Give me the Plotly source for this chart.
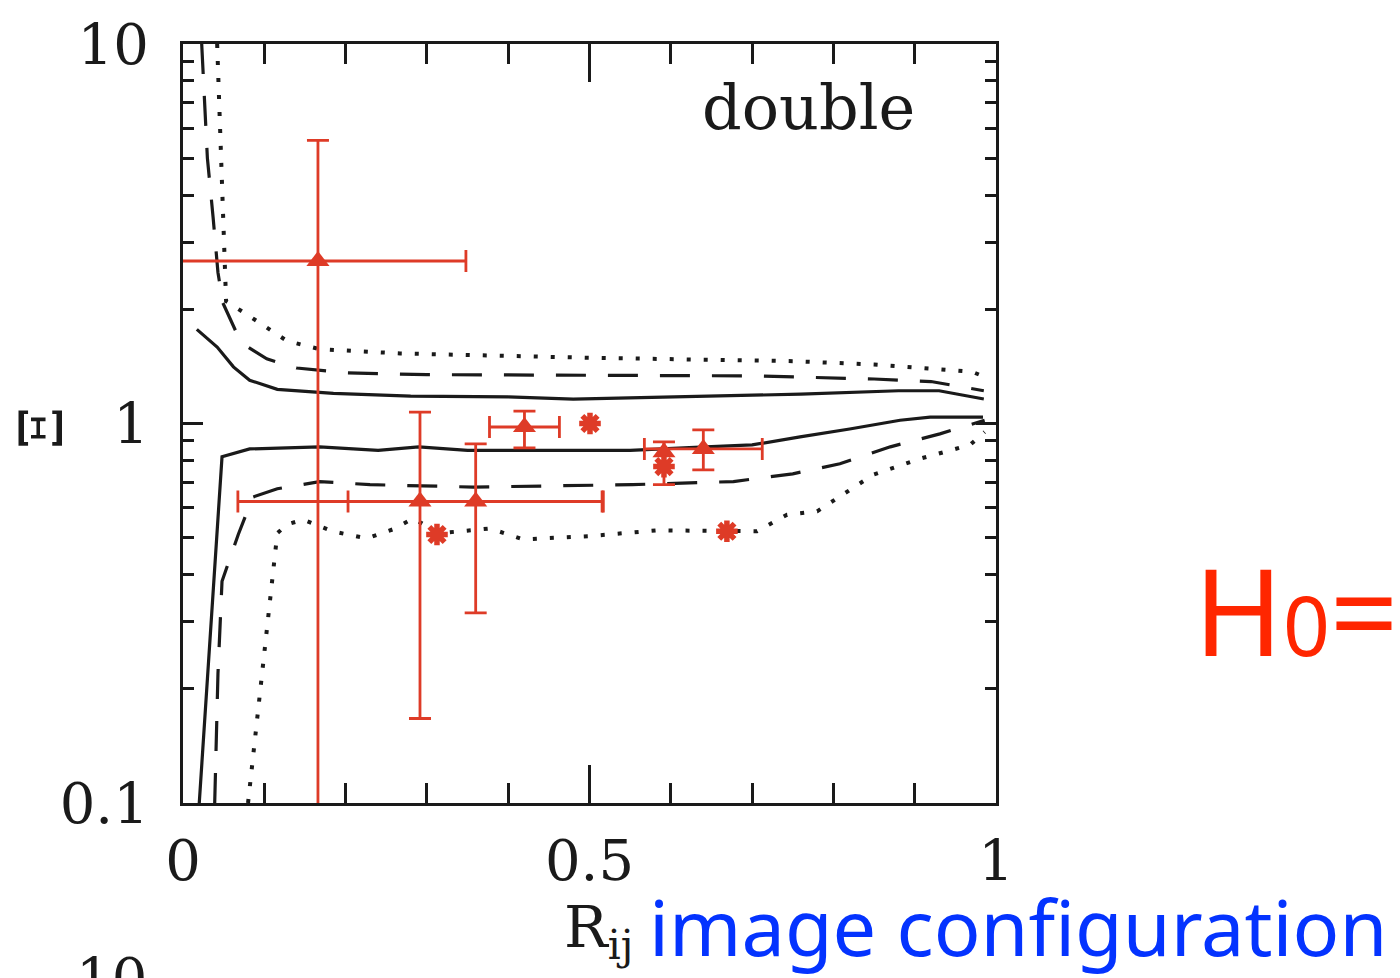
import plotly.graph_objects as go

# ---------------- data ----------------
# model curves: x = R_ij, y = Xi
solid_hi_x = [0.017, 0.042, 0.062, 0.082, 0.116, 0.185, 0.28, 0.40, 0.48, 0.55, 0.64, 0.76, 0.88, 0.93, 0.985]
solid_hi_y = [1.77, 1.59, 1.41, 1.30, 1.23, 1.20, 1.18, 1.175, 1.16, 1.17, 1.18, 1.195, 1.22, 1.22, 1.16]

solid_lo_x = [0.020, 0.048, 0.082, 0.168, 0.24, 0.29, 0.35, 0.45, 0.55, 0.636, 0.70, 0.759, 0.82, 0.882, 0.919, 0.984]
solid_lo_y = [0.10, 0.817, 0.857, 0.868, 0.85, 0.868, 0.85, 0.85, 0.85, 0.866, 0.878, 0.922, 0.967, 1.02, 1.04, 1.04]

dash_hi_x = [0.023, 0.030, 0.037, 0.043, 0.049, 0.065, 0.080, 0.103, 0.14, 0.20, 0.30, 0.50, 0.70, 0.85, 0.92, 0.985]
dash_hi_y = [10, 5, 3.5, 2.5, 2.08, 1.75, 1.59, 1.48, 1.40, 1.36, 1.345, 1.34, 1.335, 1.31, 1.29, 1.22]

dash_lo_x = [0.039, 0.043, 0.048, 0.068, 0.086, 0.116, 0.168, 0.23, 0.357, 0.553, 0.677, 0.75, 0.808, 0.87, 0.931, 0.986]
dash_lo_y = [0.10, 0.219, 0.384, 0.51, 0.64, 0.673, 0.703, 0.69, 0.68, 0.69, 0.703, 0.737, 0.783, 0.868, 0.939, 1.02]

dot_hi_x = [0.042, 0.046, 0.049, 0.053, 0.075, 0.103, 0.128, 0.168, 0.267, 0.50, 0.75, 0.85, 0.97, 0.985]
dot_hi_y = [10, 6, 3.5, 2.1, 1.96, 1.79, 1.65, 1.57, 1.53, 1.49, 1.46, 1.43, 1.37, 1.33]

dot_lo_x = [0.080, 0.097, 0.105, 0.111, 0.116, 0.128, 0.148, 0.185, 0.226, 0.258, 0.283, 0.316,
            0.378, 0.418, 0.50, 0.583, 0.706, 0.743, 0.780, 0.849, 0.906, 0.968, 0.986]
dot_lo_y = [0.10, 0.214, 0.307, 0.416, 0.514, 0.542, 0.558, 0.519, 0.498, 0.526, 0.562, 0.514,
            0.529, 0.495, 0.505, 0.523, 0.52, 0.575, 0.587, 0.733, 0.807, 0.878, 0.95]

# observed lenses (triangles) with error bars
tri_x = [0.166, 0.2915, 0.360, 0.420, 0.640, 0.5916]
tri_y = [2.68, 0.623, 0.623, 0.979, 0.857, 0.84]
tri_xerr = [0.182, 0.224, 0.157, 0.043, 0.0725, 0.0]
tri_y_hi = [5.57, 1.072, 0.884, 1.078, 0.962, 0.894]
tri_y_lo = [0.01, 0.167, 0.317, 0.863, 0.755, 0.69]

# observed lenses (stars), no error bars
star_x = [0.5006, 0.3124, 0.669, 0.5916]
star_y = [1.00, 0.51, 0.52, 0.77]

# axis ticks
x_major = [0, 0.5, 1]
x_major_text = ["0", "0.5", "1"]
x_minor = [0.1, 0.2, 0.3, 0.4, 0.6, 0.7, 0.8, 0.9]
y_major = [0.1, 1, 10]
y_major_text = ["0.1", "1", "10"]
y_minor = [0.2, 0.3, 0.4, 0.5, 0.6, 0.7, 0.8, 0.9, 2, 3, 4, 5, 6, 7, 8, 9]

# ---------------- layout helpers ----------------
W, H = 1400, 978
L, R, T, B = 183, 996, 40, 803


def px(x):
    return (x - L) / (R - L)


def py(y):
    return (B - y) / (B - T)


INK = "#1a1a1a"
RED = "#DE3B27"
SERIF = "DejaVu Serif"

fig = go.Figure()

line_w = 3.2
fig.add_trace(go.Scatter(x=solid_hi_x, y=solid_hi_y, mode="lines",
                         line=dict(color=INK, width=line_w), showlegend=False))
fig.add_trace(go.Scatter(x=solid_lo_x, y=solid_lo_y, mode="lines",
                         line=dict(color=INK, width=line_w), showlegend=False))
fig.add_trace(go.Scatter(x=dash_hi_x, y=dash_hi_y, mode="lines",
                         line=dict(color=INK, width=line_w, dash="30px,22px"), showlegend=False))
fig.add_trace(go.Scatter(x=dash_lo_x, y=dash_lo_y, mode="lines",
                         line=dict(color=INK, width=line_w, dash="30px,22px"), showlegend=False))
fig.add_trace(go.Scatter(x=dot_hi_x, y=dot_hi_y, mode="lines",
                         line=dict(color=INK, width=4, dash="4px,13px"), showlegend=False))
fig.add_trace(go.Scatter(x=dot_lo_x, y=dot_lo_y, mode="lines",
                         line=dict(color=INK, width=4, dash="4px,13px"), showlegend=False))

tri_plus = [h - y for h, y in zip(tri_y_hi, tri_y)]
tri_minus = [y - l for l, y in zip(tri_y_lo, tri_y)]

fig.add_trace(go.Scatter(
    x=tri_x, y=tri_y, mode="markers",
    marker=dict(symbol="triangle-up", size=20, color=RED),
    error_x=dict(type="data", array=tri_xerr, color=RED, thickness=2.8, width=11),
    error_y=dict(type="data", symmetric=False, array=tri_plus, arrayminus=tri_minus,
                 color=RED, thickness=2.8, width=11),
    showlegend=False))

fig.add_trace(go.Scatter(
    x=star_x, y=star_y, mode="markers",
    marker=dict(symbol="asterisk-open", size=18, color=RED, line=dict(color=RED, width=5.5)),
    showlegend=False))

axis_common = dict(showline=True, linecolor=INK, linewidth=3, mirror="ticks",
                   ticks="inside", tickcolor=INK, tickwidth=2.5,
                   showgrid=False, zeroline=False,
                   tickfont=dict(family=SERIF, size=56, color=INK))

fig.update_xaxes(range=[0, 1], tickmode="array", tickvals=x_major, ticktext=x_major_text,
                 ticklen=38, ticklabelstandoff=7,
                 minor=dict(tickmode="array", tickvals=x_minor, ticks="inside", ticklen=20,
                            tickwidth=2.5, tickcolor=INK, showgrid=False),
                 **axis_common)
fig.update_yaxes(type="log", range=[-1, 1], tickmode="array", tickvals=y_major,
                 ticktext=y_major_text, ticklen=20, ticklabelstandoff=20,
                 minor=dict(tickmode="array", tickvals=y_minor, ticks="inside", ticklen=11,
                            tickwidth=2.5, tickcolor=INK, showgrid=False),
                 **axis_common)

annotations = [
    dict(text="double", x=px(808), y=py(104), font=dict(family=SERIF, size=62, color=INK)),
    dict(text="Ξ", x=px(41), y=py(426), textangle=-90, font=dict(family=SERIF, size=60, color=INK)),
    dict(text="R<sub>ij</sub>", x=px(562), y=py(932), xanchor="left",
         font=dict(family=SERIF, size=58, color=INK)),
    dict(text="image configuration", x=px(647), y=py(927), xanchor="left",
         font=dict(family="Noto Sans", size=77.5, color="#0433FF")),
    dict(text="H<span style='font-size:82px'>0</span>=", x=px(1192), y=py(608), xanchor="left",
         font=dict(family="Noto Sans", size=120, color="#FF2600")),
    dict(text="10", x=px(111), y=py(979), font=dict(family=SERIF, size=56, color=INK)),
]
for a in annotations:
    a.update(xref="paper", yref="paper", showarrow=False)
    a.setdefault("xanchor", "center")
    a.setdefault("yanchor", "middle")

fig.update_layout(width=W, height=H, margin=dict(l=L, r=W - R, t=T, b=H - B, pad=0),
                  plot_bgcolor="white", paper_bgcolor="white",
                  annotations=annotations, showlegend=False)

fig.write_html("out.html")
